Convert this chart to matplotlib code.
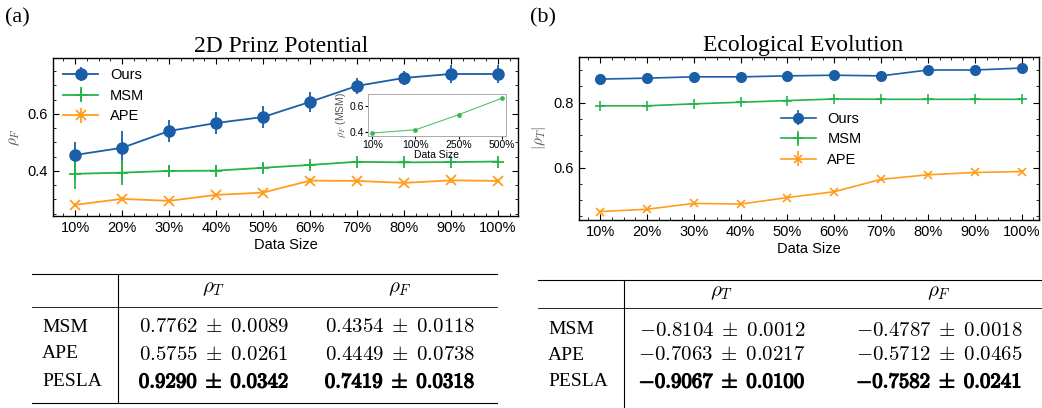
import numpy as np
import matplotlib.pyplot as plt
import matplotlib.patheffects as pe
from matplotlib.lines import Line2D
from matplotlib.ticker import AutoMinorLocator, MultipleLocator

plt.rcParams['font.family'] = ['Liberation Sans', 'DejaVu Sans']
plt.rcParams['mathtext.fontset'] = 'cm'

sizes = ['10%', '20%', '30%', '40%', '50%', '60%', '70%', '80%', '90%', '100%']

# (a) 2D Prinz potential, rho_F
prinz_ours = [0.456, 0.481, 0.540, 0.568, 0.589, 0.642, 0.698, 0.726, 0.740, 0.740]
prinz_ours_err = [0.045, 0.060, 0.038, 0.040, 0.040, 0.035, 0.028, 0.025, 0.032, 0.030]
prinz_msm = [0.390, 0.394, 0.400, 0.401, 0.411, 0.421, 0.432, 0.430, 0.431, 0.433]
prinz_msm_err = [0.052, 0.044, 0.020, 0.020, 0.015, 0.012, 0.010, 0.010, 0.010, 0.008]
prinz_ape = [0.281, 0.302, 0.295, 0.316, 0.324, 0.366, 0.365, 0.358, 0.367, 0.365]
prinz_ape_err = [0.008, 0.008, 0.008, 0.008, 0.008, 0.008, 0.008, 0.008, 0.008, 0.008]

# inset: MSM with more data
inset_sizes = ['10%', '100%', '250%', '500%']
inset_msm = [0.39, 0.415, 0.532, 0.66]
inset_msm_err = [0.01, 0.01, 0.015, 0.01]

# (b) Ecological evolution, |rho_T|
eco_ours = [0.872, 0.875, 0.879, 0.879, 0.882, 0.884, 0.882, 0.900, 0.900, 0.906]
eco_ours_err = [0.006] * 10
eco_msm = [0.790, 0.790, 0.796, 0.801, 0.806, 0.811, 0.810, 0.810, 0.810, 0.810]
eco_msm_err = [0.004] * 10
eco_ape = [0.465, 0.472, 0.490, 0.488, 0.508, 0.526, 0.564, 0.578, 0.585, 0.588]
eco_ape_err = [0.004] * 10

methods = ['MSM', 'APE', 'PESLA']
prinz_table = [[r'$0.7762 \;\pm\; 0.0089$', r'$0.4354 \;\pm\; 0.0118$'],
               [r'$0.5755 \;\pm\; 0.0261$', r'$0.4449 \;\pm\; 0.0738$'],
               [r'$0.9290 \;\pm\; 0.0342$', r'$0.7419 \;\pm\; 0.0318$']]
eco_table = [[r'$-0.8104 \;\pm\; 0.0012$', r'$-0.4787 \;\pm\; 0.0018$'],
             [r'$-0.7063 \;\pm\; 0.0217$', r'$-0.5712 \;\pm\; 0.0465$'],
             [r'$-0.9067 \;\pm\; 0.0100$', r'$-0.7582 \;\pm\; 0.0241$']]
best_row = 2

BLUE = '#1a5ea8'
GREEN = '#27b24a'
ORANGE = '#ff9d1e'

W, H = 1042, 408
fig = plt.figure(figsize=(W / 100, H / 100), dpi=100)


def px_axes(x0, top, x1, bottom):
    return fig.add_axes([x0 / W, (H - bottom) / H, (x1 - x0) / W, (bottom - top) / H])


def style(ax, ylabel):
    ax.tick_params(which='both', direction='in', top=True, right=True, labelsize=10.5)
    ax.tick_params(which='major', length=4)
    ax.tick_params(which='minor', length=2)
    ax.xaxis.set_minor_locator(AutoMinorLocator(4))
    ax.yaxis.set_major_locator(MultipleLocator(0.2))
    ax.yaxis.set_minor_locator(MultipleLocator(0.05))
    ax.set_xticks(range(len(sizes)))
    ax.set_xticklabels(sizes)
    ax.set_xlabel('Data Size', fontsize=10.5, labelpad=2)
    ax.set_ylabel(ylabel, fontsize=11, color='#555555')
    for s in ax.spines.values():
        s.set_linewidth(1.0)


x = np.arange(len(sizes))

# ---- panel (a)
ax1 = px_axes(53, 58, 518, 216)
ax1.errorbar(x, prinz_ours, yerr=prinz_ours_err, color=BLUE, marker='o', ms=8,
             lw=1.3, elinewidth=1.3, label='Ours')
ax1.errorbar(x, prinz_msm, yerr=prinz_msm_err, color=GREEN, marker='+', ms=9,
             mew=1.3, lw=1.3, elinewidth=1.3, label='MSM')
ax1.errorbar(x, prinz_ape, yerr=prinz_ape_err, color=ORANGE, marker='x', ms=7,
             mew=1.3, lw=1.3, elinewidth=1.3, label='APE')
ax1.set_xlim(-0.47, 9.43)
ax1.set_ylim(0.242, 0.796)
style(ax1, r'$\rho_F$')
ax1.set_title('2D Prinz Potential', fontsize=17, family='Liberation Serif', pad=4, x=0.49)
ax1.legend(loc='upper left', frameon=False, fontsize=10.5, handlelength=2.4,
           borderaxespad=0.3, labelspacing=0.45)

ins = px_axes(368, 94, 506, 136)
xi = np.arange(len(inset_sizes))
ins.errorbar(xi, inset_msm, yerr=inset_msm_err, color=GREEN, marker='o', ms=2.5,
             lw=0.8, elinewidth=0.8, alpha=0.8)
ins.set_xticks(xi)
ins.set_xticklabels(inset_sizes)
ins.set_xlim(-0.1, 3.1)
ins.set_ylim(0.367, 0.693)
ins.set_yticks([0.4, 0.6])
ins.tick_params(labelsize=7.5, length=2, pad=1)
ins.set_xlabel('Data Size', fontsize=7.5, labelpad=0)
ins.set_ylabel(r'$\rho_F$ (MSM)', fontsize=7.5, color='#555555', labelpad=1)
for s in ins.spines.values():
    s.set_color('#aaaaaa')
    s.set_linewidth(0.7)

# ---- panel (b)
ax2 = px_axes(579, 57, 1039, 220)
ax2.errorbar(x, eco_ours, yerr=eco_ours_err, color=BLUE, marker='o', ms=7,
             lw=1.2, elinewidth=1.2, label='Ours')
ax2.errorbar(x, eco_msm, yerr=eco_msm_err, color=GREEN, marker='+', ms=7,
             mew=1.2, lw=1.2, elinewidth=1.2, label='MSM')
ax2.errorbar(x, eco_ape, yerr=eco_ape_err, color=ORANGE, marker='x', ms=6,
             mew=1.2, lw=1.2, elinewidth=1.2, label='APE')
ax2.set_xlim(-0.45, 9.37)
ax2.set_ylim(0.439, 0.94)
style(ax2, r'$|\rho_T|$')
ax2.set_title('Ecological Evolution', fontsize=17, family='Liberation Serif', pad=4, x=0.487)
ax2.legend(loc='center left', bbox_to_anchor=(0.41, 0.495), frameon=False, fontsize=10.5,
           handlelength=2.4, labelspacing=0.45)

fig.text(5 / W, 1 - 18 / H, '(a)', fontsize=16, family='Liberation Serif', va='center')
fig.text(530 / W, 1 - 18 / H, '(b)', fontsize=16, family='Liberation Serif', va='center')


# ---- tables
def hline(x0, x1, y, lw=0.8):
    fig.add_artist(Line2D([x0 / W, x1 / W], [1 - y / H, 1 - y / H], color='k', lw=lw))


def vline(xp, y0, y1, lw=0.8):
    fig.add_artist(Line2D([xp / W, xp / W], [1 - y0 / H, 1 - y1 / H], color='k', lw=lw))


bold = [pe.withStroke(linewidth=0.9, foreground='k')]


def table(rows, x0, x1, xsep, xlab, xc1, xc2, ytop, yhead_line, yhead, yrows, ybottom=None):
    hline(x0, x1, ytop)
    hline(x0, x1, yhead_line, lw=0.6)
    vline(xsep, ytop, ybottom if ybottom else H)
    if ybottom:
        hline(x0, x1, ybottom)
    fig.text(xc1 / W, 1 - yhead / H, r'$\rho_T$', fontsize=15, ha='center', va='center')
    fig.text(xc2 / W, 1 - yhead / H, r'$\rho_F$', fontsize=15, ha='center', va='center')
    for i, m in enumerate(methods):
        y = 1 - yrows[i] / H
        fx = bold if i == best_row else None
        fig.text(xlab / W, y, m, fontsize=14, family='Liberation Serif', va='center')
        fig.text(xc1 / W, y, rows[i][0], fontsize=15, ha='center', va='center', path_effects=fx)
        fig.text(xc2 / W, y, rows[i][1], fontsize=15, ha='center', va='center', path_effects=fx)


table(prinz_table, 32, 497, 118, 42, 214, 400, 274, 307, 289, [327, 354, 382], ybottom=403)
table(eco_table, 538, 1042, 624, 548, 722, 939, 280, 308, 293, [330, 355, 382])

fig.savefig('out.png', dpi=100)
